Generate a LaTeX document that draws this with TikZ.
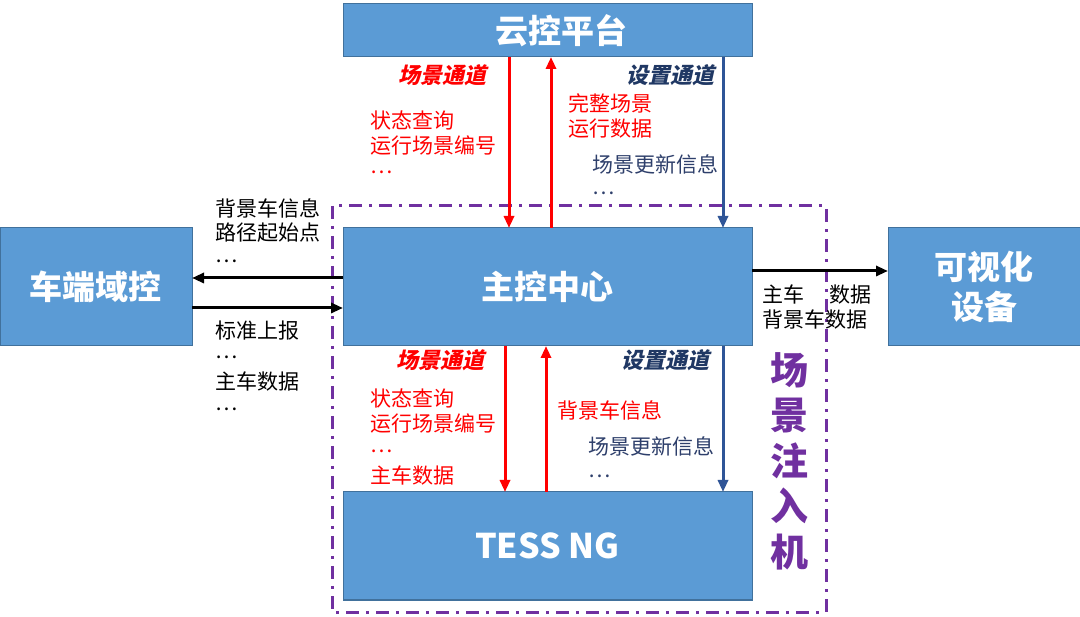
\documentclass[tikz,border=0pt]{standalone}
\usepackage{fontspec}
\usetikzlibrary{arrows.meta}
\newfontfamily\cjk{Noto Sans CJK SC}
\newfontfamily\cjksl{Noto Sans CJK SC}[FakeSlant=0.22,BoldFeatures={FakeSlant=0.22}]
\definecolor{boxfill}{HTML}{5B9BD5}
\definecolor{boxline}{HTML}{41719C}
\definecolor{myred}{HTML}{FF0000}
\definecolor{myblue}{HTML}{2F5597}
\definecolor{navy}{HTML}{203864}
\definecolor{navytxt}{HTML}{2E3F6B}
\definecolor{mypurple}{HTML}{7030A0}
\begin{document}
\begin{tikzpicture}[x=1pt,y=-1pt,
  box/.style={draw=boxline,line width=1pt,fill=boxfill,outer sep=0pt,inner sep=0pt,
    text=white,font=\cjk\bfseries\fontsize{33}{40}\selectfont,align=center},
  lbl/.style={anchor=west,inner sep=0pt,font=\cjk\fontsize{21}{25}\selectfont},
  rlbl/.style={lbl,text=myred},
  blbl/.style={lbl,text=navytxt},
  chan/.style={anchor=center,inner sep=0pt,font=\cjksl\bfseries\fontsize{22}{26}\selectfont},
  redarr/.style={draw=myred,line width=3pt,-{Triangle[length=12pt,width=10pt]}},
  bluearr/.style={draw=myblue,line width=3pt,-{Triangle[length=12pt,width=10pt]}},
  blkarr/.style={draw=black,line width=3pt,-{Triangle[length=12pt,width=10pt]}}
]
\useasboundingbox (0,0) rectangle (1080,617);
\fill[white] (0,0) rectangle (1080,617);

% dash-dot frame
\draw[mypurple,line width=3pt,dash pattern=on 13pt off 7pt on 3pt off 7pt] (332,206) rectangle (826,612);

% boxes
\node[box,minimum width=409pt,minimum height=53pt] (cloud) at (547.5,30.5) {\hspace*{28pt}云控平台};
\node[box,minimum width=409pt,minimum height=118pt] (main) at (547.5,287) {主控中心};
\node[box,minimum width=192pt,minimum height=118pt] (car) at (96,287) {车端域控};
\node[box,minimum width=192pt,minimum height=118pt] (vis) at (984,287) {可视化\\设备};
\node[box,minimum width=409pt,minimum height=108pt,font=\cjk\bfseries\fontsize{34}{40}\selectfont] (tess) at (547.5,546) {TESS NG};

% vertical arrows top
\draw[redarr] ([xshift=-38.5pt]cloud.south) -- ([xshift=-38.5pt]main.north);
\draw[redarr] ([xshift=3.5pt]main.north) -- ([xshift=3.5pt]cloud.south);
\draw[bluearr] ([xshift=175.5pt]cloud.south) -- ([xshift=175.5pt]main.north);
% vertical arrows bottom
\draw[redarr] ([xshift=-42.5pt]main.south) -- ([xshift=-42.5pt]tess.north);
\draw[redarr] ([xshift=-1.5pt]tess.north) -- ([xshift=-1.5pt]main.south);
\draw[bluearr] ([xshift=175.5pt]main.south) -- ([xshift=175.5pt]tess.north);
% horizontal arrows
\draw[blkarr] ([yshift=9pt]main.west) -- ([yshift=9pt]car.east);
\draw[blkarr] ([yshift=-21pt]car.east) -- ([yshift=-21pt]main.west);
\draw[blkarr] ([yshift=16pt]main.east) -- ([yshift=16pt]vis.west);

% top labels
\node[chan,text=myred] (ch1) at (442,75) {场景通道};
\node[chan,text=navy] (ch2) at (670,75) {设置通道};
\node[rlbl] (t1) at (370,120) {状态查询};
\node[rlbl] (t2) at (370,146) {运行场景编号};
\node[rlbl] (t3) at (370,172) {…};
\node[rlbl] (t4) at (568,103) {完整场景};
\node[rlbl] (t5) at (568,129) {运行数据};
\node[blbl] (t6) at (592,164) {场景更新信息};
\node[blbl] (t7) at (592,193) {…};

% left labels
\node[lbl] (l1) at (215,208) {背景车信息};
\node[lbl] (l2) at (215,233) {路径起始点};
\node[lbl] (l3) at (215,261) {…};
\node[lbl] (l4) at (215,331) {标准上报};
\node[lbl] (l5) at (215,357) {…};
\node[lbl] (l6) at (215,382) {主车数据};
\node[lbl] (l7) at (215,409) {…};

% right labels
\node[lbl] (r1) at (762,295) {主车\hspace{25pt}数据};
\node[lbl] (r2) at (762,320) {背景车数据};

% bottom labels
\node[chan,text=myred] (ch3) at (440,360) {场景通道};
\node[chan,text=navy] (ch4) at (665,360) {设置通道};
\node[rlbl] (b1) at (370,398) {状态查询};
\node[rlbl] (b2) at (370,424) {运行场景编号};
\node[rlbl] (b3) at (370,451) {…};
\node[rlbl] (b4) at (370,475) {主车数据};
\node[rlbl] (b5) at (557,410) {背景车信息};
\node[blbl] (b6) at (588,446) {场景更新信息};
\node[blbl] (b7) at (588,476) {…};

% vertical title
\node[inner sep=0pt,text=mypurple,align=center,font=\cjk\bfseries\fontsize{38}{45.5}\selectfont] (inj) at (789,461) {场\\景\\注\\入\\机};
\end{tikzpicture}
\end{document}
